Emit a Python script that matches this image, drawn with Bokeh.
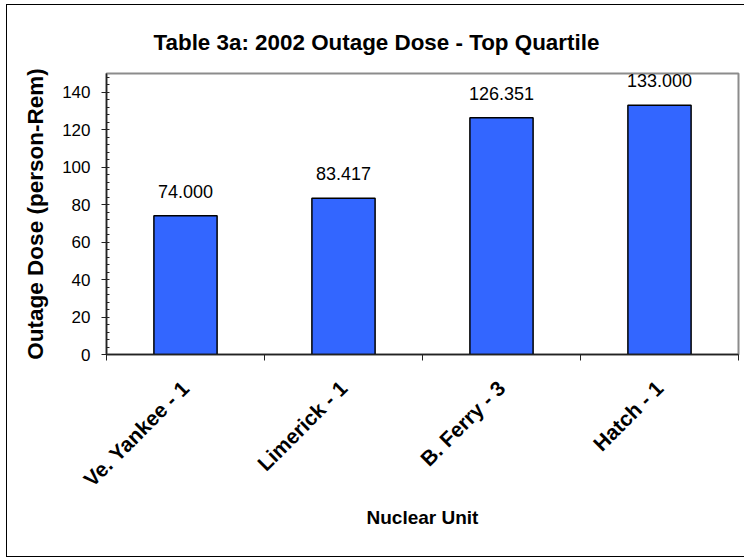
from math import pi
from bokeh.plotting import figure
from bokeh.models import (Range1d, FixedTicker, SingleIntervalTicker,
                          ColumnDataSource, LabelSet)
from bokeh.core.properties import value
from bokeh.embed import file_html
from bokeh.resources import INLINE

# ---- data ----
units = ["Ve. Yankee - 1", "Limerick - 1", "B. Ferry - 3", "Hatch - 1"]
dose = [74.000, 83.417, 126.351, 133.000]
dose_labels = ["74.000", "83.417", "126.351", "133.000"]
title_text = "Table 3a: 2002 Outage Dose - Top Quartile"
x_title = "Nuclear Unit"
y_title = "Outage Dose (person-Rem)"
y_max = 150
y_step = 20

FONT = "Liberation Sans"
W, H = 738, 553

pos = [i + 0.5 for i in range(len(units))]
bounds = [i for i in range(len(units) + 1)]
src = ColumnDataSource(dict(x=pos, top=dose, label=dose_labels))

p = figure(width=W, height=H,
           x_range=Range1d(0, len(units)), y_range=Range1d(0, y_max),
           output_backend="svg", toolbar_location=None,
           min_border_left=99, min_border_right=7,
           min_border_top=68, min_border_bottom=204)

# outer chart border (left, top, bottom) placed like the reference
p.styles = {"margin-left": "6px", "margin-top": "4px",
            "border-left": "1px solid black", "border-top": "1px solid black",
            "border-bottom": "1px solid black"}

p.background_fill_color = "white"
p.border_fill_color = "white"
p.outline_line_color = "#8c8c8c"
p.outline_line_width = 2
p.xgrid.visible = False
p.ygrid.visible = False

# title
p.title.text = title_text
p.title.align = "left"
p.title.offset = 47
p.title.text_font = FONT
p.title.text_font_size = "22.4px"
p.title.text_font_style = "bold"
p.title.text_color = "black"
p.title.standoff = 38

# bars
p.vbar(x="x", top="top", width=0.4, source=src,
       fill_color="#3366FF", line_color="black", line_width=1.5)

labels = LabelSet(x="x", y="top", text="label", source=src,
                  text_align="center", text_baseline="alphabetic", y_offset=18,
                  text_font=value(FONT), text_font_size="18px", text_color="black")
p.add_layout(labels)

# x axis
xa = p.xaxis[0]
xa.ticker = FixedTicker(ticks=pos, minor_ticks=bounds)
xa.major_label_overrides = {x: u for x, u in zip(pos, units)}
xa.major_label_orientation = pi / 4
xa.major_tick_out = 0
xa.major_tick_in = 0
xa.minor_tick_out = 6
xa.minor_tick_in = 0
xa.major_label_standoff = 24
xa.major_label_text_font = FONT
xa.major_label_text_font_size = "21px"
xa.major_label_text_font_style = "bold"
xa.major_label_text_color = "black"
xa.axis_line_color = "#222222"
xa.axis_line_width = 1.5
xa.minor_tick_line_color = "#222222"
xa.axis_label = x_title
xa.axis_label_text_font = FONT
xa.axis_label_text_font_size = "19px"
xa.axis_label_text_font_style = "bold"
xa.axis_label_text_color = "black"
xa.axis_label_standoff = 5

# y axis
ya = p.yaxis[0]
ya.ticker = SingleIntervalTicker(interval=y_step, num_minor_ticks=5)
ya.major_tick_out = 5
ya.major_tick_in = 2
ya.minor_tick_out = 0
ya.minor_tick_in = 3
ya.major_label_standoff = 11
ya.major_label_text_font = FONT
ya.major_label_text_font_size = "17px"
ya.major_label_text_color = "black"
ya.axis_line_color = "#222222"
ya.axis_line_width = 1.5
ya.major_tick_line_color = "#222222"
ya.minor_tick_line_color = "#222222"
ya.axis_label = y_title
ya.axis_label_text_font = FONT
ya.axis_label_text_font_size = "22.5px"
ya.axis_label_text_font_style = "bold"
ya.axis_label_text_color = "black"
ya.axis_label_standoff = 11

open("out.html", "w").write(file_html(p, INLINE))
